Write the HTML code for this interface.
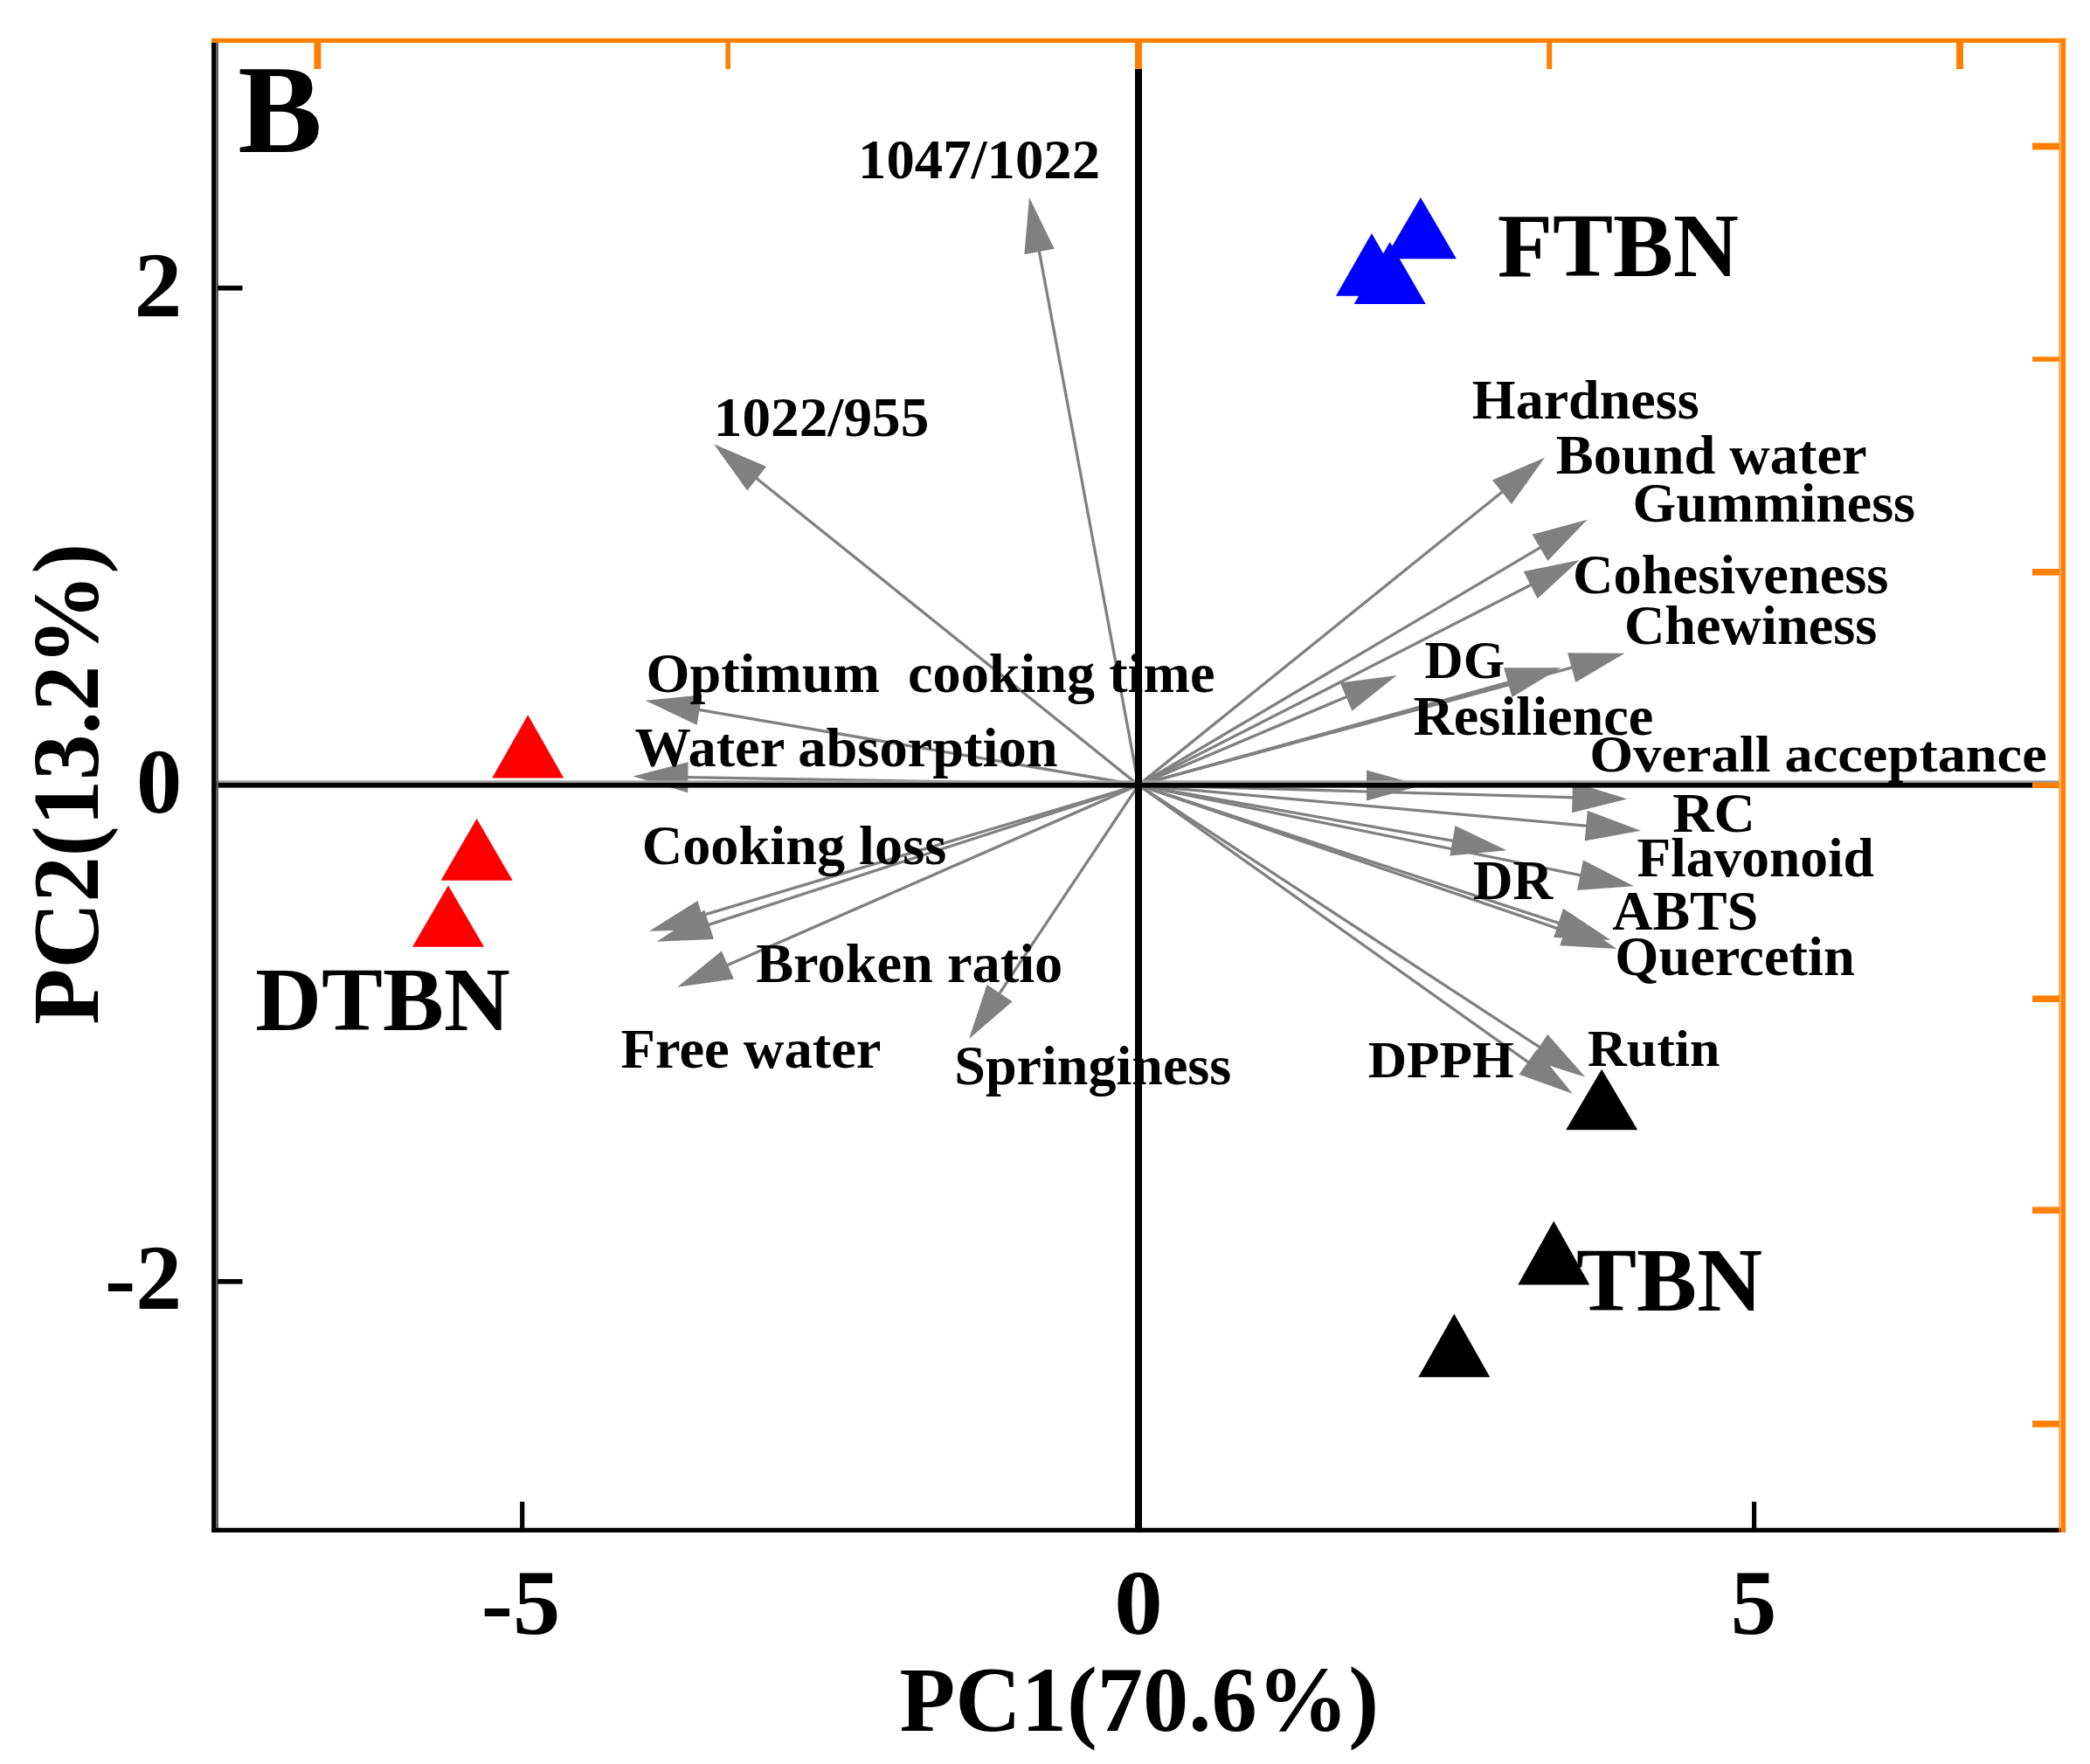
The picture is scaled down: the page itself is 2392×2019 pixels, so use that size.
<!DOCTYPE html><html><head><meta charset="utf-8"><title>PCA biplot</title>
<style>html,body{margin:0;padding:0;background:#fff;}svg{display:block;}text{font-family:"Liberation Serif",serif;font-weight:bold;fill:#000;}</style></head><body>
<svg width="2392" height="2019" viewBox="0 0 2392 2019">
<rect x="0" y="0" width="2392" height="2019" fill="#ffffff"/>
<g id="arrows">
<line x1="1303.0" y1="898.6" x2="1189.1" y2="286.1" stroke="#808080" stroke-width="3.3"/>
<polygon points="1178.0,226.1 1206.7,284.8 1172.3,291.2" fill="#808080"/>
<line x1="1303.0" y1="898.6" x2="864.6" y2="546.5" stroke="#808080" stroke-width="3.3"/>
<polygon points="817.0,508.3 877.1,534.1 855.2,561.4" fill="#808080"/>
<line x1="1303.0" y1="898.6" x2="798.6" y2="812.1" stroke="#808080" stroke-width="3.3"/>
<polygon points="738.5,801.8 803.6,795.2 797.6,829.7" fill="#808080"/>
<line x1="1303.0" y1="898.6" x2="785.4" y2="889.7" stroke="#808080" stroke-width="3.3"/>
<polygon points="724.4,888.6 787.7,872.2 787.1,907.2" fill="#808080"/>
<line x1="1303.0" y1="898.6" x2="801.6" y2="1048.3" stroke="#808080" stroke-width="3.3"/>
<polygon points="743.1,1065.7 798.5,1030.9 808.5,1064.5" fill="#808080"/>
<line x1="1303.0" y1="898.6" x2="809.7" y2="1058.9" stroke="#808080" stroke-width="3.3"/>
<polygon points="751.7,1077.7 806.2,1041.6 817.0,1074.9" fill="#808080"/>
<line x1="1303.0" y1="898.6" x2="831.1" y2="1105.2" stroke="#808080" stroke-width="3.3"/>
<polygon points="775.2,1129.7 825.9,1088.4 839.9,1120.5" fill="#808080"/>
<line x1="1303.0" y1="898.6" x2="1143.0" y2="1138.3" stroke="#808080" stroke-width="3.3"/>
<polygon points="1109.1,1189.0 1129.5,1126.9 1158.6,1146.3" fill="#808080"/>
<line x1="1303.0" y1="898.6" x2="1720.5" y2="562.0" stroke="#808080" stroke-width="3.3"/>
<polygon points="1768.0,523.7 1729.9,576.9 1708.0,549.6" fill="#808080"/>
<line x1="1303.0" y1="898.6" x2="1764.2" y2="625.9" stroke="#808080" stroke-width="3.3"/>
<polygon points="1816.7,594.8 1771.4,641.9 1753.6,611.8" fill="#808080"/>
<line x1="1303.0" y1="898.6" x2="1753.5" y2="668.7" stroke="#808080" stroke-width="3.3"/>
<polygon points="1807.8,641.0 1759.6,685.2 1743.7,654.0" fill="#808080"/>
<line x1="1303.0" y1="898.6" x2="1800.6" y2="763.7" stroke="#808080" stroke-width="3.3"/>
<polygon points="1859.5,747.7 1803.3,781.1 1794.1,747.3" fill="#808080"/>
<line x1="1303.0" y1="898.6" x2="1727.7" y2="780.5" stroke="#808080" stroke-width="3.3"/>
<polygon points="1786.5,764.2 1730.5,797.9 1721.1,764.2" fill="#808080"/>
<line x1="1303.0" y1="898.6" x2="1542.5" y2="796.9" stroke="#808080" stroke-width="3.3"/>
<polygon points="1598.6,773.1 1547.4,813.8 1533.8,781.6" fill="#808080"/>
<line x1="1303.0" y1="898.6" x2="1566.0" y2="898.9" stroke="#808080" stroke-width="3.3"/>
<polygon points="1627.0,899.0 1564.0,916.4 1564.0,881.4" fill="#808080"/>
<line x1="1303.0" y1="898.6" x2="1801.5" y2="912.8" stroke="#808080" stroke-width="3.3"/>
<polygon points="1862.5,914.5 1799.0,930.2 1800.0,895.2" fill="#808080"/>
<line x1="1303.0" y1="898.6" x2="1817.2" y2="945.3" stroke="#808080" stroke-width="3.3"/>
<polygon points="1878.0,950.8 1813.7,962.5 1816.8,927.7" fill="#808080"/>
<line x1="1303.0" y1="898.6" x2="1664.3" y2="962.7" stroke="#808080" stroke-width="3.3"/>
<polygon points="1724.4,973.3 1659.3,979.5 1665.4,945.1" fill="#808080"/>
<line x1="1303.0" y1="898.6" x2="1810.4" y2="1002.1" stroke="#808080" stroke-width="3.3"/>
<polygon points="1870.2,1014.3 1805.0,1018.9 1812.0,984.6" fill="#808080"/>
<line x1="1303.0" y1="898.6" x2="1785.5" y2="1057.0" stroke="#808080" stroke-width="3.3"/>
<polygon points="1843.5,1076.0 1778.2,1073.0 1789.1,1039.7" fill="#808080"/>
<line x1="1303.0" y1="898.6" x2="1792.8" y2="1066.2" stroke="#808080" stroke-width="3.3"/>
<polygon points="1850.5,1086.0 1785.2,1082.2 1796.6,1049.0" fill="#808080"/>
<line x1="1303.0" y1="898.6" x2="1763.3" y2="1199.4" stroke="#808080" stroke-width="3.3"/>
<polygon points="1814.4,1232.8 1752.1,1213.0 1771.2,1183.7" fill="#808080"/>
<line x1="1303.0" y1="898.6" x2="1750.3" y2="1216.7" stroke="#808080" stroke-width="3.3"/>
<polygon points="1800.0,1252.1 1738.5,1229.8 1758.8,1201.3" fill="#808080"/>
</g>
<rect x="250.00" y="1746.20" width="2106.00" height="2.60" fill="#f2f2f2"/>
<rect x="246.00" y="893.30" width="2111.00" height="2.60" fill="#a0a0a0"/>
<rect x="246.00" y="895.90" width="2111.00" height="5.70" fill="#000"/>
<rect x="1299.00" y="79.00" width="8.00" height="1671.00" fill="#000"/>
<rect x="242.10" y="46.00" width="5.50" height="1708.00" fill="#000"/>
<rect x="247.60" y="49.00" width="2.40" height="1700.00" fill="#606060"/>
<rect x="242.10" y="1748.80" width="2116.90" height="5.20" fill="#000"/>
<rect x="242.00" y="43.80" width="2122.20" height="5.20" fill="#ff8000"/>
<rect x="2356.10" y="49.00" width="2.90" height="1705.00" fill="#ffb060"/>
<rect x="2359.00" y="43.80" width="5.20" height="1710.20" fill="#ff8000"/>
<rect x="2356.10" y="1748.80" width="2.90" height="5.20" fill="#a05000"/>
<rect x="359.40" y="49.00" width="8.00" height="30.00" fill="#ff8000"/>
<rect x="830.40" y="49.00" width="5.60" height="30.00" fill="#ff8000"/>
<rect x="1299.00" y="49.00" width="8.00" height="30.00" fill="#ff8000"/>
<rect x="1770.20" y="49.00" width="6.00" height="30.00" fill="#ff8000"/>
<rect x="2239.00" y="49.00" width="8.00" height="30.00" fill="#ff8000"/>
<rect x="2326.00" y="163.60" width="31.00" height="7.80" fill="#ff8000"/>
<rect x="2326.00" y="408.30" width="31.00" height="5.60" fill="#ff8000"/>
<rect x="2326.00" y="651.00" width="31.00" height="7.60" fill="#ff8000"/>
<rect x="2326.00" y="895.60" width="31.00" height="6.20" fill="#ff8000"/>
<rect x="2326.00" y="1139.40" width="31.00" height="7.60" fill="#ff8000"/>
<rect x="2326.00" y="1381.40" width="31.00" height="7.60" fill="#ff8000"/>
<rect x="2326.00" y="1626.00" width="31.00" height="7.60" fill="#ff8000"/>
<rect x="249.00" y="326.90" width="28.50" height="5.60" fill="#000"/>
<rect x="249.00" y="1464.00" width="28.50" height="5.60" fill="#000"/>
<rect x="595.10" y="1718.80" width="5.20" height="31.20" fill="#000"/>
<rect x="2005.00" y="1718.80" width="5.20" height="31.20" fill="#000"/>
<polygon points="1569.9,267.0 1528.9,338.8 1610.9,338.8" fill="#0000ff"/>
<polygon points="1590.7,277.0 1549.7,348.0 1631.7,348.0" fill="#0000ff"/>
<polygon points="1625.9,225.9 1584.9,296.3 1666.9,296.3" fill="#0000ff"/>
<polygon points="604.2,818.2 563.2,890.5 645.2,890.5" fill="#ff0000"/>
<polygon points="545.6,937.0 504.6,1007.7 586.6,1007.7" fill="#ff0000"/>
<polygon points="513.0,1013.4 472.0,1083.8 554.0,1083.8" fill="#ff0000"/>
<polygon points="1833.2,1223.7 1792.2,1293.2 1874.2,1293.2" fill="#000000"/>
<polygon points="1778.3,1397.4 1737.3,1470.6 1819.3,1470.6" fill="#000000"/>
<polygon points="1664.3,1503.7 1623.3,1576.3 1705.3,1576.3" fill="#000000"/>
<g id="labels">
<text x="272.34" y="174.30" font-size="144" textLength="96.47" lengthAdjust="spacingAndGlyphs" xml:space="preserve">B</text>
<text x="982.14" y="204.40" font-size="64" textLength="276.87" lengthAdjust="spacingAndGlyphs" xml:space="preserve">1047/1022</text>
<text x="816.80" y="498.50" font-size="64" textLength="246.52" lengthAdjust="spacingAndGlyphs" xml:space="preserve">1022/955</text>
<text x="739.49" y="791.80" font-size="64" textLength="650.94" lengthAdjust="spacingAndGlyphs" xml:space="preserve">Optimum&#160;&#160;cooking time</text>
<text x="726.54" y="876.90" font-size="64" textLength="483.94" lengthAdjust="spacingAndGlyphs" xml:space="preserve">Water absorption</text>
<text x="734.79" y="988.80" font-size="64" textLength="348.40" lengthAdjust="spacingAndGlyphs" xml:space="preserve">Cooking loss</text>
<text x="865.19" y="1124.20" font-size="64" textLength="351.00" lengthAdjust="spacingAndGlyphs" xml:space="preserve">Broken ratio</text>
<text x="710.49" y="1222.10" font-size="64" textLength="297.97" lengthAdjust="spacingAndGlyphs" xml:space="preserve">Free water</text>
<text x="1092.35" y="1241.20" font-size="64" textLength="316.87" lengthAdjust="spacingAndGlyphs" xml:space="preserve">Springiness</text>
<text x="1684.80" y="479.00" font-size="64" textLength="259.85" lengthAdjust="spacingAndGlyphs" xml:space="preserve">Hardness</text>
<text x="1780.79" y="541.80" font-size="64" textLength="355.77" lengthAdjust="spacingAndGlyphs" xml:space="preserve">Bound water</text>
<text x="1868.40" y="596.80" font-size="64" textLength="323.64" lengthAdjust="spacingAndGlyphs" xml:space="preserve">Gumminess</text>
<text x="1800.08" y="678.60" font-size="64" textLength="361.30" lengthAdjust="spacingAndGlyphs" xml:space="preserve">Cohesiveness</text>
<text x="1858.89" y="736.90" font-size="64" textLength="289.40" lengthAdjust="spacingAndGlyphs" xml:space="preserve">Chewiness</text>
<text x="1630.60" y="775.70" font-size="61" textLength="91.50" lengthAdjust="spacingAndGlyphs" xml:space="preserve">DG</text>
<text x="1617.40" y="841.20" font-size="64" textLength="275.00" lengthAdjust="spacingAndGlyphs" xml:space="preserve">Resilience</text>
<text x="1819.25" y="883.30" font-size="60" textLength="523.47" lengthAdjust="spacingAndGlyphs" xml:space="preserve">Overall acceptance</text>
<text x="1914.18" y="952.10" font-size="64" textLength="94.62" lengthAdjust="spacingAndGlyphs" xml:space="preserve">RC</text>
<text x="1873.41" y="1002.60" font-size="64" textLength="271.38" lengthAdjust="spacingAndGlyphs" xml:space="preserve">Flavonoid</text>
<text x="1685.71" y="1028.80" font-size="64" textLength="91.59" lengthAdjust="spacingAndGlyphs" xml:space="preserve">DR</text>
<text x="1845.30" y="1063.70" font-size="64" textLength="166.88" lengthAdjust="spacingAndGlyphs" xml:space="preserve">ABTS</text>
<text x="1848.28" y="1115.80" font-size="64" textLength="274.51" lengthAdjust="spacingAndGlyphs" xml:space="preserve">Quercetin</text>
<text x="1817.07" y="1219.80" font-size="60" textLength="151.24" lengthAdjust="spacingAndGlyphs" xml:space="preserve">Rutin</text>
<text x="1565.78" y="1233.20" font-size="60" textLength="167.05" lengthAdjust="spacingAndGlyphs" xml:space="preserve">DPPH</text>
<text x="1713.66" y="316.30" font-size="104" textLength="276.20" lengthAdjust="spacingAndGlyphs" xml:space="preserve">FTBN</text>
<text x="292.23" y="1179.10" font-size="104" textLength="291.42" lengthAdjust="spacingAndGlyphs" xml:space="preserve">DTBN</text>
<text x="1804.01" y="1500.20" font-size="104" textLength="212.93" lengthAdjust="spacingAndGlyphs" xml:space="preserve">TBN</text>
<text x="153.55" y="362.20" font-size="105" textLength="54.96" lengthAdjust="spacingAndGlyphs" xml:space="preserve">2</text>
<text x="156.02" y="929.50" font-size="105" textLength="52.26" lengthAdjust="spacingAndGlyphs" xml:space="preserve">0</text>
<text x="119.92" y="1498.00" font-size="105" textLength="88.18" lengthAdjust="spacingAndGlyphs" xml:space="preserve">-2</text>
<text x="550.82" y="1870.20" font-size="105" textLength="90.53" lengthAdjust="spacingAndGlyphs" xml:space="preserve">-5</text>
<text x="1275.18" y="1869.80" font-size="105" textLength="55.45" lengthAdjust="spacingAndGlyphs" xml:space="preserve">0</text>
<text x="1980.70" y="1870.40" font-size="105" textLength="52.56" lengthAdjust="spacingAndGlyphs" xml:space="preserve">5</text>
<text x="1029.46" y="1981.00" font-size="105" textLength="548.62" lengthAdjust="spacingAndGlyphs" xml:space="preserve">PC1(70.6%)</text>
<text transform="translate(111.80,1172.72) rotate(-90)" font-size="107" textLength="550.98" lengthAdjust="spacingAndGlyphs" xml:space="preserve">PC2(13.2%)</text>
</g>
</svg></body></html>
